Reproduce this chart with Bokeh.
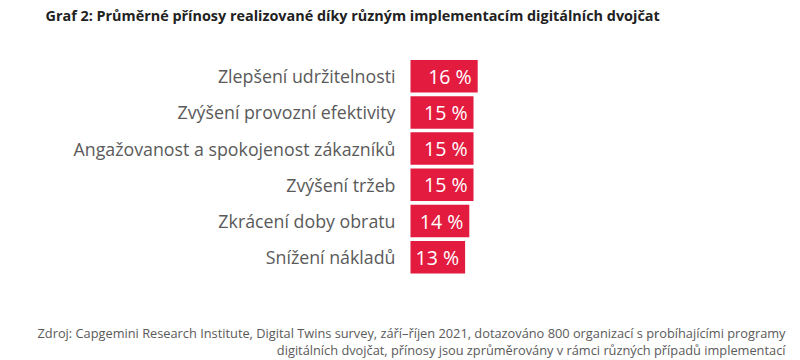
from bokeh.plotting import figure
from bokeh.models import ColumnDataSource, Range1d, Label
from bokeh.core.properties import value
from bokeh.embed import file_html
from bokeh.resources import INLINE

categories = ["Zlepšení udržitelnosti", "Zvýšení provozní efektivity",
              "Angažovanost a spokojenost zákazníků", "Zvýšení tržeb",
              "Zkrácení doby obratu", "Snížení nákladů"]
values = [16, 15, 15, 15, 14, 13]
value_labels = [f"{v} %" for v in values]
row = list(range(len(categories)))

title_text = "Graf 2: Průměrné přínosy realizované díky různým implementacím digitálních dvojčat"
source_lines = ["Zdroj: Capgemini Research Institute, Digital Twins survey, září–říjen 2021, dotazováno 800 organizací s probíhajícími programy",
                "digitálních dvojčat, přínosy jsou zprůměrovány v rámci různých případů implementací"]

W, H = 800, 360
k = 4.2          # px per percent
x0 = 410         # canvas x of zero
rowpx = 36.2
top = 75.7

src = ColumnDataSource(dict(cat=categories, val=values, lab=value_labels, y=row))

p = figure(width=W, height=H, output_backend="svg", toolbar_location=None,
           x_axis_location=None, y_axis_location=None,
           x_range=Range1d(-x0 / k, (W - x0) / k),
           y_range=Range1d((H - top) / rowpx, -top / rowpx),
           min_border=0, outline_line_color=None)
p.grid.visible = False
p.background_fill_color = "white"

p.hbar(y="y", left=0, right="val", height=32.5 / rowpx, source=src,
       fill_color="#E31B3F", line_color=None)
p.text(x="val", y="y", text="lab", source=src, x_offset=-6,
       text_align="right", text_baseline="middle", text_color="white",
       text_font=value("Open Sans"), text_font_size="19.5px")
p.text(x=0, y="y", text="cat", source=src, x_offset=-15,
       text_align="right", text_baseline="middle", text_color="#5a5a5a",
       text_font=value("Open Sans"), text_font_size="17.8px")

p.add_layout(Label(x=45, y=H - 15, x_units="screen", y_units="screen",
                   text=title_text, text_font="Open Sans", text_font_size="14.4px",
                   text_font_style="bold", text_color="#222222",
                   text_baseline="middle"))
for i, line in enumerate(source_lines):
    p.add_layout(Label(x=785, y=H - 332 - 17 * i, x_units="screen", y_units="screen",
                       text=line, text_font="Open Sans", text_font_size="12.8px",
                       text_color="#5a5a5a", text_align="right",
                       text_baseline="middle"))

open("out.html", "w").write(file_html(p, INLINE))
